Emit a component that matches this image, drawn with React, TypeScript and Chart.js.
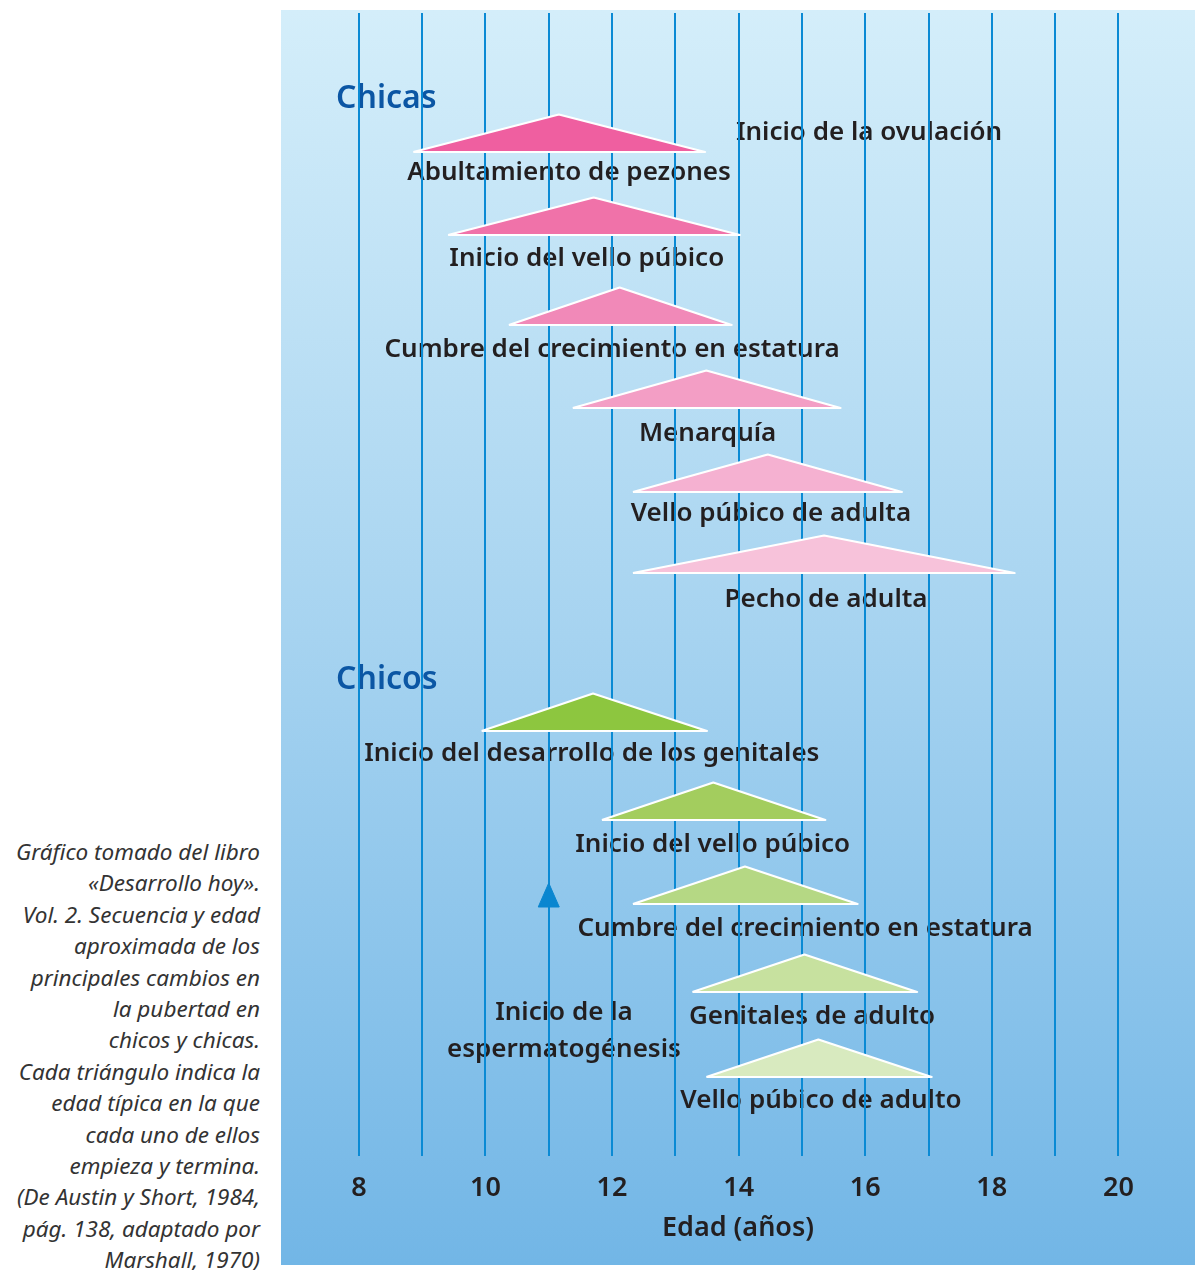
import React, { useEffect, useRef } from "react";
import { Chart, registerables } from "chart.js";
Chart.register(...registerables);

// Age axis (years)
const ageTicks = [8, 9, 10, 11, 12, 13, 14, 15, 16, 17, 18, 19, 20];
const ageMin = 6.77;
const ageMax = 21.21;

// Vertical layout units (0 = top of plot, grows downward)
const levelMax = 114.3;
const triangleHeight = 3.75;

// Girls
const girlsEvents = [
  "Abultamiento de pezones",
  "Inicio del vello púbico",
  "Cumbre del crecimiento en estatura",
  "Menarquía",
  "Vello púbico de adulta",
  "Pecho de adulta",
];
const girlsStart = [8.86, 9.41, 10.37, 11.38, 12.33, 12.33];
const girlsPeak = [11.16, 11.71, 12.12, 13.49, 14.46, 15.35];
const girlsEnd = [13.47, 14.02, 13.89, 15.61, 16.58, 18.36];
const girlsBase = [13.9, 22.2, 31.2, 39.5, 47.9, 56.0];
const girlsLabelAge = [11.32, 11.6, 12.0, 13.51, 14.51, 15.38];
const girlsLabelLevel = [16.7, 25.3, 34.4, 42.8, 50.8, 59.4];
const girlsColors = ["#ef5fa0", "#f072a9", "#f189b8", "#f39ec5", "#f5b1d1", "#f7c2da"];

// Boys
const boysEvents = [
  "Inicio del desarrollo de los genitales",
  "Inicio del vello púbico",
  "Cumbre del crecimiento en estatura",
  "Genitales de adulto",
  "Vello púbico de adulto",
];
const boysStart = [9.94, 11.84, 12.33, 13.27, 13.49];
const boysPeak = [11.7, 13.6, 14.1, 15.04, 15.26];
const boysEnd = [13.5, 15.37, 15.88, 16.82, 17.05];
const boysBase = [71.8, 80.7, 89.1, 97.9, 106.4];
const boysLabelAge = [11.68, 13.59, 15.05, 15.16, 15.3];
const boysLabelLevel = [74.8, 83.9, 92.3, 101.1, 109.5];
const boysColors = ["#8dc63f", "#a3cd5e", "#b5d884", "#c7e19f", "#d8eabf"];

// Single events
const ovulationLabel = "Inicio de la ovulación";
const ovulationAge = 16.06;
const ovulationLevel = 12.7;
const spermLabelLines = ["Inicio de la", "espermatogénesis"];
const spermLabelAge = 11.24;
const spermLabelLevels = [100.7, 104.4];
const spermAge = 11;
const spermArrowTop = 87.0;
const spermArrowBase = 89.4;
const spermArrowHalfWidth = 0.166;

// Group headers
const groupTitles = ["Chicas", "Chicos"];
const groupTitleAge = 7.64;
const groupTitleLevels = [9.5, 67.6];

const captionLines = [
  "Gráfico tomado del libro",
  "«Desarrollo hoy».",
  "Vol. 2. Secuencia y edad",
  "aproximada de los",
  "principales cambios en",
  "la pubertad en",
  "chicos y chicas.",
  "Cada triángulo indica la",
  "edad típica en la que",
  "cada uno de ellos",
  "empieza y termina.",
  "(De Austin y Short, 1984,",
  "pág. 138, adaptado por",
  "Marshall, 1970)",
];

const FONT = "'Noto Sans', 'DejaVu Sans', sans-serif";

function triangle(start: number, peak: number, end: number, base: number, color: string, border: string) {
  return {
    data: [
      { x: start, y: base },
      { x: peak, y: base - triangleHeight },
      { x: end, y: base },
      { x: start, y: base },
    ],
    showLine: true,
    fill: "shape",
    backgroundColor: color,
    borderColor: border,
    borderWidth: 2.2,
    borderJoinStyle: "round",
    pointRadius: 0,
    pointHoverRadius: 0,
    tension: 0,
  };
}

const textPlugin = {
  id: "bgAndText",
  beforeDraw(chart: any) {
    const { ctx, width, height } = chart;
    const x = chart.scales.x;
    const y = chart.scales.y;
    ctx.save();
    const g = ctx.createLinearGradient(0, 0, 0, height);
    g.addColorStop(0, "#d4eefa");
    g.addColorStop(0.5, "#a6d3f0");
    g.addColorStop(1, "#72b6e6");
    ctx.fillStyle = g;
    ctx.fillRect(0, 0, width, height);

    ctx.textBaseline = "alphabetic";
    ctx.fillStyle = "#231f20";
    ctx.font = `600 26px ${FONT}`;
    ctx.textAlign = "center";
    girlsEvents.forEach((t, i) => {
      ctx.fillText(t, x.getPixelForValue(girlsLabelAge[i]), y.getPixelForValue(girlsLabelLevel[i]));
    });
    boysEvents.forEach((t, i) => {
      ctx.fillText(t, x.getPixelForValue(boysLabelAge[i]), y.getPixelForValue(boysLabelLevel[i]));
    });
    ctx.fillText(ovulationLabel, x.getPixelForValue(ovulationAge), y.getPixelForValue(ovulationLevel));
    spermLabelLines.forEach((t, i) => {
      ctx.fillText(t, x.getPixelForValue(spermLabelAge), y.getPixelForValue(spermLabelLevels[i]));
    });

    ctx.fillStyle = "#0b56a4";
    ctx.font = `600 32px ${FONT}`;
    ctx.textAlign = "left";
    groupTitles.forEach((t, i) => {
      ctx.fillText(t, x.getPixelForValue(groupTitleAge), y.getPixelForValue(groupTitleLevels[i]));
    });
    ctx.restore();
  },
};

export default function App() {
  const ref = useRef<HTMLCanvasElement | null>(null);

  useEffect(() => {
    if (!ref.current) return;
    const datasets: any[] = [];
    girlsEvents.forEach((_, i) =>
      datasets.push(triangle(girlsStart[i], girlsPeak[i], girlsEnd[i], girlsBase[i], girlsColors[i], "#ffffff"))
    );
    boysEvents.forEach((_, i) =>
      datasets.push(triangle(boysStart[i], boysPeak[i], boysEnd[i], boysBase[i], boysColors[i], "#ffffff"))
    );
    datasets.push({
      data: [
        { x: spermAge - spermArrowHalfWidth, y: spermArrowBase },
        { x: spermAge, y: spermArrowTop },
        { x: spermAge + spermArrowHalfWidth, y: spermArrowBase },
        { x: spermAge - spermArrowHalfWidth, y: spermArrowBase },
      ],
      showLine: true,
      fill: "shape",
      backgroundColor: "#0a86d0",
      borderColor: "#0a86d0",
      borderWidth: 1,
      pointRadius: 0,
      tension: 0,
    });

    const chart = new Chart(ref.current, {
      type: "scatter",
      data: { datasets },
      plugins: [textPlugin],
      options: {
        animation: false,
        responsive: true,
        maintainAspectRatio: false,
        events: [],
        layout: { padding: { top: 3, bottom: 28.8, left: 0, right: 0 } },
        plugins: { legend: { display: false }, tooltip: { enabled: false } },
        scales: {
          x: {
            type: "linear",
            position: "bottom",
            min: ageMin,
            max: ageMax,
            afterBuildTicks: (scale: any) => {
              scale.ticks = ageTicks.map((v) => ({ value: v }));
            },
            ticks: {
              autoSkip: false,
              maxRotation: 0,
              padding: 15.8,
              color: "#231f20",
              font: { family: FONT, size: 27, weight: "600" },
              callback: (v: any) => (Number(v) % 2 === 0 ? String(v) : ""),
            },
            grid: { color: "#0a8ad4", lineWidth: 2, drawTicks: false },
            border: { display: false },
            title: {
              display: true,
              text: "Edad (años)",
              color: "#231f20",
              font: { family: FONT, size: 27, weight: "600", lineHeight: 0.6 },
              padding: { top: 0, bottom: 0 },
            },
          },
          y: {
            type: "linear",
            display: false,
            reverse: true,
            min: 0,
            max: levelMax,
          },
        },
      } as any,
    });
    return () => chart.destroy();
  }, []);

  return (
    <div style={{ position: "absolute", left: 0, top: 0, width: 1199, height: 1270, background: "#ffffff" }}>
      <div
        style={{
          position: "absolute",
          left: 0,
          top: 836,
          width: 260,
          textAlign: "right",
          fontFamily: FONT,
          fontStyle: "italic",
          fontSize: 22.5,
          lineHeight: "31.4px",
          color: "#333333",
          whiteSpace: "nowrap",
        }}
      >
        {captionLines.map((l, i) => (
          <div key={i}>{l}</div>
        ))}
      </div>
      <div style={{ position: "absolute", left: 281, top: 10, width: 914, height: 1255 }}>
        <canvas ref={ref} />
      </div>
    </div>
  );
}
